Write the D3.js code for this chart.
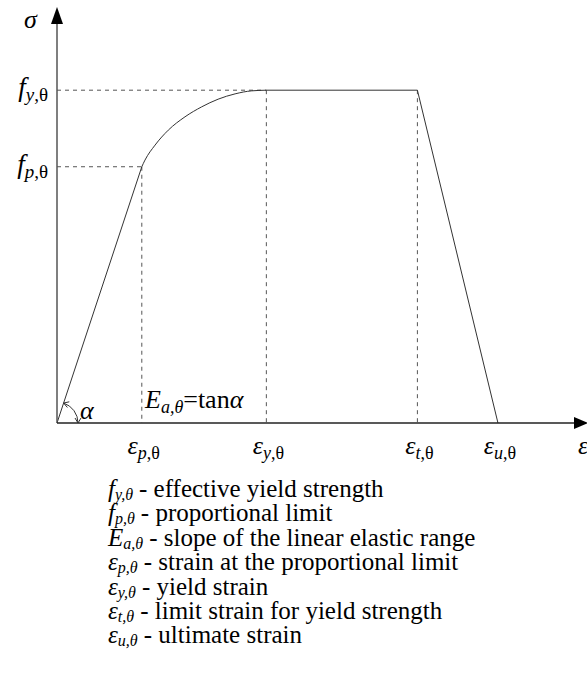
<!DOCTYPE html>
<html>
<head>
<script src="https://cdn.jsdelivr.net/npm/d3@7"></script>
</head>
<body style="margin:0">
<svg id="chart" width="587" height="690"></svg>
<script>
// strain marks on the horizontal axis (arbitrary units)
var strainNames = ['p', 'y', 't', 'u'];
var strainValues = [1.6, 3.95, 6.8, 8.32];
// stress marks on the vertical axis (relative to f_y)
var stressNames = ['y', 'p'];
var stressValues = [1.0, 0.77];

// stress-strain curve between the proportional limit and yield
var curveStrain = [1.6, 1.66, 1.85, 2.1, 2.415, 2.73, 3.04, 3.36, 3.67, 3.95];
var curveStress = [0.77, 0.79, 0.835, 0.88, 0.92, 0.95, 0.973, 0.989, 0.998, 1.0];

var legendSymbols = ['f', 'f', 'E', 'ε', 'ε', 'ε', 'ε'];
var legendSubs = ['y', 'p', 'a', 'p', 'y', 't', 'u'];
var legendTexts = [
  'effective yield strength',
  'proportional limit',
  'slope of the linear elastic range',
  'strain at the proportional limit',
  'yield strain',
  'limit strain for yield strength',
  'ultimate strain'
];

var FONT = 'Times New Roman';
var svg = d3.select('#chart');

var x = d3.scaleLinear().domain([0, 10]).range([57, 587]);
var y = d3.scaleLinear().domain([0, 1.25]).range([423, 7]);

var fy = stressValues[0], fp = stressValues[1];
var ep = strainValues[0], ey = strainValues[1], et = strainValues[2], eu = strainValues[3];

// every piece of a label is its own <text>, laid out from the measured widths
function rich(parts, px, py, anchor) {
  var g = svg.append('g');
  var cx = 0;
  parts.forEach(function(p) {
    cx += p.gap || 0;
    var t = g.append('text')
      .attr('x', cx).attr('y', py + (p.dy || 0))
      .style('font-family', FONT)
      .attr('font-size', p.size);
    if (p.italic) t.attr('font-style', 'italic');
    t.text(p.t);
    var w = t.node().getComputedTextLength();
    if (!w) w = p.t.length * p.size * 0.5;
    cx += w;
  });
  var off = anchor === 'end' ? -cx : anchor === 'middle' ? -cx / 2 : 0;
  g.attr('transform', 'translate(' + (px + off) + ',0)');
  return g;
}

// dashed guide lines
var dash = svg.append('g')
  .attr('stroke', '#555')
  .attr('stroke-width', 1)
  .attr('stroke-dasharray', '4,4')
  .attr('fill', 'none');

dash.append('line')
  .attr('x1', x(0)).attr('x2', x(ey))
  .attr('y1', y(fy)).attr('y2', y(fy));
dash.append('line')
  .attr('x1', x(0)).attr('x2', x(ep))
  .attr('y1', y(fp)).attr('y2', y(fp));
[[ep, fp], [ey, fy], [et, fy]].forEach(function(d) {
  dash.append('line')
    .attr('x1', x(d[0])).attr('x2', x(d[0]))
    .attr('y1', y(d[1])).attr('y2', y(0));
});

// the curve
var pts = curveStrain.map(function(s, i) { return [s, curveStress[i]]; });

var line = d3.line()
  .x(function(d) { return x(d[0]); })
  .y(function(d) { return y(d[1]); });

svg.append('path')
  .attr('d', line([[0, 0], [ep, fp]]))
  .attr('fill', 'none').attr('stroke', '#333').attr('stroke-width', 1);

svg.append('path')
  .attr('d', line.curve(d3.curveMonotoneX)(pts))
  .attr('fill', 'none').attr('stroke', '#333').attr('stroke-width', 1);

line.curve(d3.curveLinear);
svg.append('path')
  .attr('d', line([[ey, fy], [et, fy], [eu, 0]]))
  .attr('fill', 'none').attr('stroke', '#333').attr('stroke-width', 1);

// axes
var axes = svg.append('g');
axes.append('line')
  .attr('x1', x(0)).attr('x2', x(0))
  .attr('y1', y(0)).attr('y2', y(1.2))
  .attr('stroke', '#555').attr('stroke-width', 1.5);
axes.append('line')
  .attr('x1', x(0)).attr('x2', x(9.8))
  .attr('y1', y(0)).attr('y2', y(0))
  .attr('stroke', '#222').attr('stroke-width', 1.5);
axes.append('path')
  .attr('d', 'M' + x(0) + ',' + y(1.25) + 'L' + (x(0) - 6) + ',' + (y(1.25) + 17) +
             'L' + (x(0) + 6) + ',' + (y(1.25) + 17) + 'Z')
  .attr('fill', '#000');
axes.append('path')
  .attr('d', 'M' + (x(10) + 1) + ',' + y(0) + 'L' + (x(10) - 13) + ',' + (y(0) - 6) +
             'L' + (x(10) - 13) + ',' + (y(0) + 6) + 'Z')
  .attr('fill', '#000');

// angle alpha, arrowheads at both ends
var ang = Math.atan2(y(0) - y(fp), x(ep) - x(0));
var r = 21;
var ox = x(0), oy = y(0);
var p0 = [ox + r * Math.cos(ang), oy - r * Math.sin(ang)];
var p1 = [ox + r, oy];
svg.append('path')
  .attr('d', 'M' + p0[0] + ',' + p0[1] + 'A' + r + ',' + r + ' 0 0 1 ' + p1[0] + ',' + p1[1])
  .attr('fill', 'none').attr('stroke', '#333').attr('stroke-width', 1);

function tipHead(p, dir) {
  // dir: unit vector in the direction the arrow points
  var len = 5, w = 3;
  var bx = p[0] - dir[0] * len, by = p[1] - dir[1] * len;
  svg.append('path')
    .attr('d', 'M' + (bx - dir[1] * w) + ',' + (by + dir[0] * w) +
               'L' + p[0] + ',' + p[1] +
               'L' + (bx + dir[1] * w) + ',' + (by - dir[0] * w))
    .attr('fill', 'none').attr('stroke', '#333').attr('stroke-width', 1);
}
tipHead(p0, [-Math.sin(ang), -Math.cos(ang)]);
tipHead(p1, [0, 1]);

rich([{ t: 'α', size: 26, italic: true }], 80, 419);

// E = tan alpha
rich([
  { t: 'E', size: 26, italic: true },
  { t: 'a,θ', size: 18, italic: true, dy: 5 },
  { t: '=tan', size: 26 },
  { t: 'α', size: 26, italic: true }
], 145, 408);

// strain tick labels
strainValues.forEach(function(v, i) {
  rich([
    { t: 'ε', size: 26, italic: true },
    { t: strainNames[i], size: 18, italic: true, dy: 5 },
    { t: ',θ', size: 18, dy: 5 }
  ], x(v) + 2, 454, 'middle');
});
rich([{ t: 'ε', size: 26, italic: true }], 578, 454);

// stress tick labels
stressValues.forEach(function(v, i) {
  rich([
    { t: 'f', size: 27, italic: true },
    { t: stressNames[i], size: 19, italic: true, dy: 5 },
    { t: ',θ', size: 19, dy: 5 }
  ], 48, y(v) + 6, 'end');
});
rich([{ t: 'σ', size: 26, italic: true }], 24, 28);

// legend
legendTexts.forEach(function(d, i) {
  rich([
    { t: legendSymbols[i], size: 25, italic: true },
    { t: legendSubs[i] + ',θ', size: 16, italic: true, dy: 3 },
    { t: '- ' + d, size: 25, gap: 6 }
  ], 108, 497 + i * 24.4);
});
</script>
</body>
</html>
